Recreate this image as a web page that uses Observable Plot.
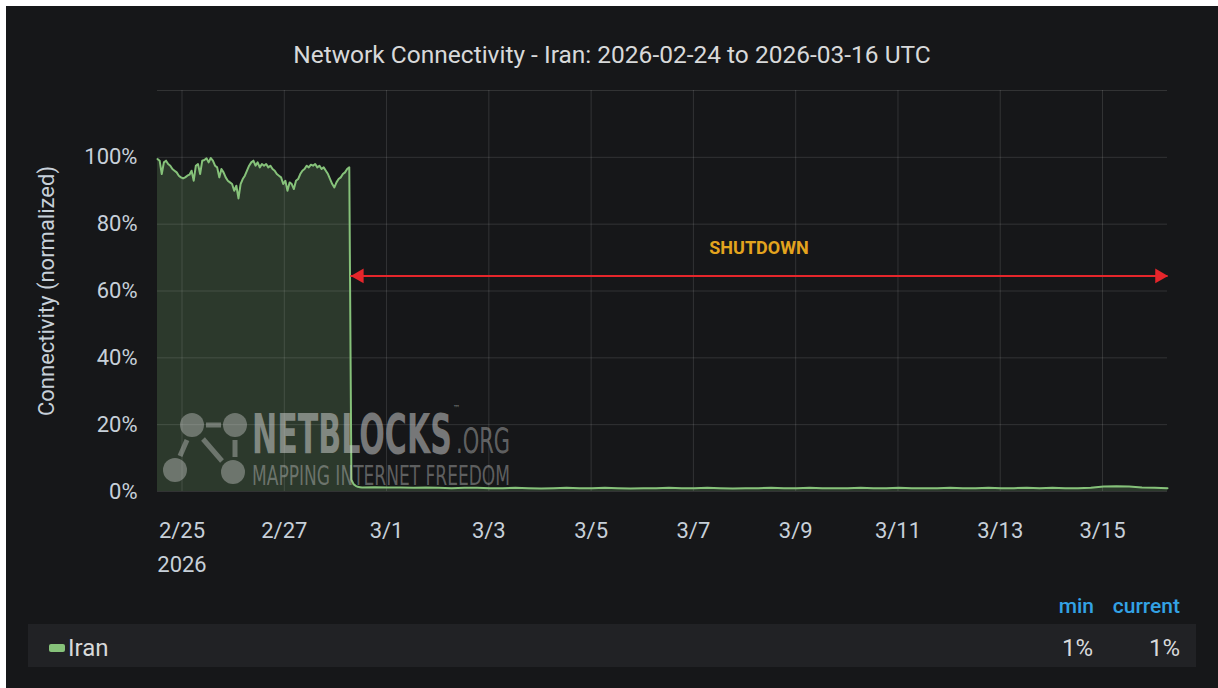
<!DOCTYPE html>
<html>
<head>
<meta charset="utf-8">
<script src="https://cdn.jsdelivr.net/npm/d3@7"></script>
<script src="https://cdn.jsdelivr.net/npm/@observablehq/plot@0.6"></script>
<style>
html,body{margin:0;padding:0;background:#ffffff;}
body{width:1218px;height:688px;overflow:hidden;position:relative;font-family:Roboto,"Helvetica Neue",Arial,sans-serif;}
#panel{position:absolute;left:6px;top:6px;width:1212px;height:682px;background:#161719;overflow:hidden;}
#title{position:absolute;left:0;top:34px;width:1212px;text-align:center;color:#d8d9da;font-size:24.5px;line-height:30px;}
#chart{position:absolute;left:0;top:69px;}
#wm{position:absolute;left:0;top:0;pointer-events:none;}
.hdr{position:absolute;top:587px;color:#33a2e5;font-size:21px;line-height:26px;font-weight:500;text-align:right;}
#row{position:absolute;left:22px;top:618px;width:1168px;height:43px;background:#212225;}
#swatch{position:absolute;left:43px;top:638px;width:16px;height:8px;border-radius:2px;}
#series{position:absolute;left:62px;top:627px;color:#d8d9da;font-size:24px;line-height:30px;}
.val{position:absolute;top:627px;color:#d8d9da;font-size:24px;line-height:30px;text-align:right;}
</style>
</head>
<body>
<div id="panel">
  <div id="title"></div>
  <div id="chart"></div>
  <svg id="wm" width="1212" height="682">
    <g stroke="rgba(215,215,215,0.38)" stroke-width="5" fill="none">
      <line x1="200" y1="419" x2="215" y2="419"/>
      <line x1="181" y1="434" x2="174" y2="450"/>
      <line x1="197" y1="433" x2="216" y2="455"/>
      <line x1="229" y1="434" x2="229" y2="451"/>
    </g>
    <g fill="rgba(215,215,215,0.38)">
      <circle cx="186" cy="419" r="12"/>
      <circle cx="229" cy="419" r="12"/>
      <circle cx="169" cy="464" r="12"/>
      <circle cx="227" cy="466" r="12"/>
    </g>
    <text font-family="'Liberation Sans Narrow','DejaVu Sans Condensed',Roboto,sans-serif" fill="rgba(215,215,215,0.5)"><tspan x="246" y="447" font-weight="bold" font-size="55" textLength="200" lengthAdjust="spacingAndGlyphs">NETBLOCKS</tspan><tspan x="447" y="405" font-size="8">™</tspan><tspan x="450" y="447" font-size="36" textLength="54" lengthAdjust="spacingAndGlyphs" fill="rgba(215,215,215,0.4)">.ORG</tspan><tspan x="246" y="479" font-size="27" textLength="258" lengthAdjust="spacingAndGlyphs" fill="rgba(215,215,215,0.38)">MAPPING INTERNET FREEDOM</tspan></text>
  </svg>
  <div class="hdr" id="hmin" style="left:1030px;width:58px;">min</div>
  <div class="hdr" id="hcur" style="left:1090px;width:84px;">current</div>
  <div id="row"></div>
  <div id="swatch"></div>
  <div id="series"></div>
  <div class="val" id="vmin" style="left:1030px;width:57px;"></div>
  <div class="val" id="vcur" style="left:1110px;width:64px;"></div>
</div>
<script>
// ---- data ----
const titleText = "Network Connectivity - Iran: 2026-02-24 to 2026-03-16 UTC";
const seriesName = "Iran";
const yLabel = "Connectivity (normalized)";
const preStart = Date.UTC(2026, 1, 24, 12, 30);   // first hourly sample
const preStepHours = 1;
const preShutdown = [
  0.995, 0.99, 0.95, 0.985, 0.99, 0.98, 0.975, 0.965, 0.96, 0.955,
  0.945, 0.94, 0.937, 0.94, 0.945, 0.948, 0.96, 0.93, 0.975, 0.98,
  0.95, 0.99, 0.992, 0.997, 0.985, 0.998, 0.99, 0.975, 0.97, 0.94,
  0.965, 0.955, 0.94, 0.93, 0.925, 0.92, 0.90, 0.915, 0.877, 0.92,
  0.935, 0.945, 0.96, 0.975, 0.985, 0.99, 0.975, 0.985, 0.97, 0.98,
  0.975, 0.98, 0.97, 0.975, 0.965, 0.96, 0.95, 0.945, 0.94, 0.92,
  0.93, 0.90, 0.925, 0.92, 0.905, 0.93, 0.935, 0.95, 0.96, 0.965,
  0.975, 0.97, 0.978, 0.975, 0.98, 0.97, 0.975, 0.965, 0.97, 0.96,
  0.95, 0.935, 0.92, 0.91, 0.925, 0.935, 0.94, 0.95, 0.955, 0.965,
  0.97, 0.035, 0.022, 0.017, 0.014, 0.013, 0.012
];
const postStart = Date.UTC(2026, 1, 28, 18, 30);  // first 6-hourly sample after the shutdown
const postStepHours = 6;
const postShutdown = [
  0.013, 0.012, 0.012, 0.011, 0.012, 0.011, 0.010, 0.011, 0.011, 0.010,
  0.010, 0.011, 0.010, 0.009, 0.010, 0.011, 0.010, 0.010, 0.011, 0.010,
  0.009, 0.010, 0.010, 0.011, 0.010, 0.010, 0.011, 0.010, 0.009, 0.010,
  0.010, 0.011, 0.010, 0.010, 0.011, 0.010, 0.010, 0.010, 0.011, 0.010,
  0.010, 0.011, 0.010, 0.010, 0.010, 0.011, 0.010, 0.010, 0.011, 0.010,
  0.010, 0.011, 0.010, 0.011, 0.010, 0.010, 0.011, 0.015, 0.016, 0.015,
  0.012, 0.011, 0.010
];
const yTicks = [0, 0.2, 0.4, 0.6, 0.8, 1.0];
const yGrid = [0, 0.2, 0.4, 0.6, 0.8, 1.0, 1.2];
const xTickDates = ["2026-02-25","2026-02-27","2026-03-01","2026-03-03","2026-03-05","2026-03-07","2026-03-09","2026-03-11","2026-03-13","2026-03-15"];
const xTickLabels = ["2/25\n2026","2/27","3/1","3/3","3/5","3/7","3/9","3/11","3/13","3/15"];
const shutdownLabel = "SHUTDOWN";
const shutdownStart = Date.UTC(2026, 1, 28, 7, 0);
const shutdownLevel = 0.645;

// ---- build ----
const H = 3600 * 1000;
const data = [
  ...preShutdown.map((v, i) => ({date: new Date(preStart + i * preStepHours * H), value: v})),
  ...postShutdown.map((v, i) => ({date: new Date(postStart + i * postStepHours * H), value: v}))
];
const lineColor = "#86c27a";
const red = "#e5262b";
const xDomain = d3.extent(data, d => d.date);
const shutdownEnd = xDomain[1];
const tickDates = xTickDates.map(s => new Date(s + "T00:00:00Z"));
const labelByTime = new Map(tickDates.map((d, i) => [+d, xTickLabels[i]]));
const arrowData = [{x1: new Date(shutdownStart), x2: shutdownEnd, y: shutdownLevel}];
const midDate = new Date((shutdownStart + (+shutdownEnd)) / 2);

document.getElementById("title").textContent = titleText;

const chart = Plot.plot({
  width: 1212,
  height: 522,
  marginLeft: 151,
  marginRight: 51,
  marginTop: 15,
  marginBottom: 106,
  style: {background: "transparent", color: "#c7d0d9", fontFamily: "Roboto, sans-serif", fontSize: "22px", overflow: "visible"},
  x: {type: "utc", domain: xDomain},
  y: {domain: [0, 1.2]},
  marks: [
    Plot.areaY(data, {x: "date", y: "value", fill: lineColor, fillOpacity: 0.2}),
    Plot.gridX(tickDates, {stroke: "#ffffff", strokeOpacity: 0.12}),
    Plot.gridY(yGrid, {stroke: "#ffffff", strokeOpacity: 0.12}),
    Plot.lineY(data, {x: "date", y: "value", stroke: lineColor, strokeWidth: 2}),
    Plot.axisY({ticks: yTicks, tickFormat: d3.format(".0%"), tickSize: 0, tickPadding: 20, fontSize: 22,
      label: yLabel, labelAnchor: "center", labelOffset: 119, labelArrow: "none"}),
    Plot.axisX({ticks: tickDates, tickFormat: d => labelByTime.get(+d), tickSize: 0, tickPadding: 22,
      fontSize: 22, lineHeight: 1.55, label: null}),
    Plot.link(arrowData, {x1: "x1", x2: "x2", y1: "y", y2: "y", stroke: red, strokeWidth: 2}),
    Plot.dot(arrowData, {x: "x1", y: "y", symbol: "triangle", r: 5.5, fill: red, rotate: -90, dx: 9}),
    Plot.dot(arrowData, {x: "x2", y: "y", symbol: "triangle", r: 5.5, fill: red, rotate: 90, dx: -8}),
    Plot.text([{x: midDate, y: shutdownLevel}], {x: "x", y: "y", text: () => shutdownLabel, dy: -28,
      fill: "#e3a41e", fontWeight: "bold", fontSize: 18})
  ]
});
document.getElementById("chart").appendChild(chart);

// legend
const pct = d3.format(".0%");
document.getElementById("swatch").style.background = lineColor;
document.getElementById("series").textContent = seriesName;
document.getElementById("vmin").textContent = pct(d3.min(data, d => d.value));
document.getElementById("vcur").textContent = pct(data[data.length - 1].value);
</script>
</body>
</html>
